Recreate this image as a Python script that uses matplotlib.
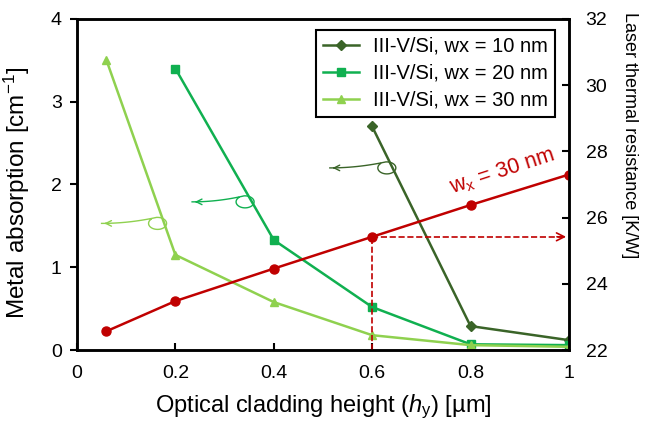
import numpy as np
import matplotlib
matplotlib.use('Agg')
import matplotlib.pyplot as plt
from matplotlib.transforms import IdentityTransform

plt.rcParams['font.family'] = ['Liberation Sans', 'DejaVu Sans']
plt.rcParams['mathtext.fontset'] = 'custom'
plt.rcParams['mathtext.rm'] = 'Liberation Sans'
plt.rcParams['mathtext.it'] = 'Liberation Sans:italic'

# Metal absorption [cm^-1] vs cladding height
hy_10 = [0.6, 0.8, 1.0]
abs_10 = [2.70, 0.29, 0.12]
hy_20 = [0.2, 0.4, 0.6, 0.8, 1.0]
abs_20 = [3.40, 1.33, 0.52, 0.07, 0.06]
hy_30 = [0.06, 0.2, 0.4, 0.6, 0.8, 1.0]
abs_30 = [3.50, 1.15, 0.58, 0.18, 0.06, 0.04]

# Laser thermal resistance [K/W], wx = 30 nm
hy_th = [0.06, 0.2, 0.4, 0.6, 0.8, 1.0]
rth = [22.57, 23.48, 24.46, 25.42, 26.38, 27.30]
hy_pick = 0.6

labels = ['III-V/Si, wx = 10 nm', 'III-V/Si, wx = 20 nm', 'III-V/Si, wx = 30 nm']
c10, c20, c30, cred = '#3a6428', '#10b050', '#8fd14f', '#c00000'

# curly "read this axis" arrows: tip position (x, y) and tail length in px
curl_tips = [(0.514, 2.20), (0.234, 1.79), (0.05, 1.53)]
curl_len = [56, 52, 55]
curl_cols = [c10, c20, c30]

fig = plt.figure(figsize=(6.49, 4.28), dpi=100)
ax = fig.add_axes([0.1186, 0.182, 0.758, 0.774])
ax2 = ax.twinx()

ax.plot(hy_10, abs_10, '-D', color=c10, lw=1.8, ms=5, label=labels[0])
ax.plot(hy_20, abs_20, '-s', color=c20, lw=1.8, ms=6, label=labels[1])
ax.plot(hy_30, abs_30, '-^', color=c30, lw=1.8, ms=6, label=labels[2])
ax2.plot(hy_th, rth, '-o', color=cred, lw=1.8, ms=6.5)

ax.set_xlim(0, 1)
ax.set_ylim(0, 4)
ax2.set_ylim(22, 32)
ax.set_xticks([0, 0.2, 0.4, 0.6, 0.8, 1.0])
ax.set_xticklabels(['0', '0.2', '0.4', '0.6', '0.8', '1'])
ax.set_yticks([0, 1, 2, 3, 4])
ax2.set_yticks([22, 24, 26, 28, 30, 32])

ax.tick_params(axis='x', direction='in', length=5, width=1.5, labelsize=14, pad=11)
ax.tick_params(axis='y', direction='out', length=5, width=1.5, labelsize=14, pad=6)
ax2.tick_params(axis='y', direction='in', length=5, width=1.5, labelsize=14, pad=12)
for a in (ax, ax2):
    for s in a.spines.values():
        s.set_linewidth(1.8)

ax.set_xlabel(r'Optical cladding height ($\mathit{h}_\mathrm{y}$) [µm]', fontsize=17, labelpad=7)
ax.set_ylabel(r'Metal absorption [cm$^{-1}$]', fontsize=17.5)
ax.yaxis.set_label_coords(-0.092, 0.475)
ax2.set_ylabel('Laser thermal resistance [K/W]', fontsize=13, rotation=270)
ax2.yaxis.set_label_coords(1.14, 0.648)

leg = ax.legend(loc='upper right', bbox_to_anchor=(0.972, 0.967), fontsize=14.5,
                frameon=True, fancybox=False, edgecolor='black', framealpha=1,
                handlelength=1.8, borderpad=0.35, labelspacing=0.4, handletextpad=0.7,
                borderaxespad=0)
leg.get_frame().set_linewidth(1.5)

# dashed guide at the picked height
r_pick = rth[hy_th.index(hy_pick)]
ax2.plot([hy_pick, hy_pick], [22, r_pick], '--', color=cred, lw=1.2)
ax2.plot([hy_pick, 0.985], [r_pick, r_pick], '--', color=cred, lw=1.2)
ax2.annotate('', xy=(1.0, r_pick), xytext=(0.97, r_pick),
             arrowprops=dict(arrowstyle='->', color=cred, lw=1.2, mutation_scale=14))
ax2.text(0.865, 27.4, r'w$_\mathrm{x}$ = 30 nm', color=cred, fontsize=15.5,
         rotation=18, ha='center', va='center')

# curly arrows pointing to the left axis
for (tx, ty), L, col in zip(curl_tips, curl_len, curl_cols):
    px, py = ax.transData.transform((tx, ty))
    t = np.linspace(0, 1, 40)
    xs = px + L * t
    ys = py + 6 * t ** 2
    th = np.linspace(np.pi / 2, np.pi / 2 - 1.75 * np.pi, 60)
    cx, cy = px + L + 1, py
    lx = cx + 9 * np.cos(th)
    ly = cy + 6 * np.sin(th)
    xs = np.concatenate([xs, lx])
    ys = np.concatenate([ys, ly])
    ax.plot(xs, ys, color=col, lw=1.0, transform=IdentityTransform(), clip_on=False)
    ax.annotate('', xy=(px, py), xycoords=IdentityTransform(),
                xytext=(px + 8, py), textcoords=IdentityTransform(),
                arrowprops=dict(arrowstyle='->', color=col, lw=1.0, mutation_scale=10))

fig.savefig('out.png', dpi=100)
